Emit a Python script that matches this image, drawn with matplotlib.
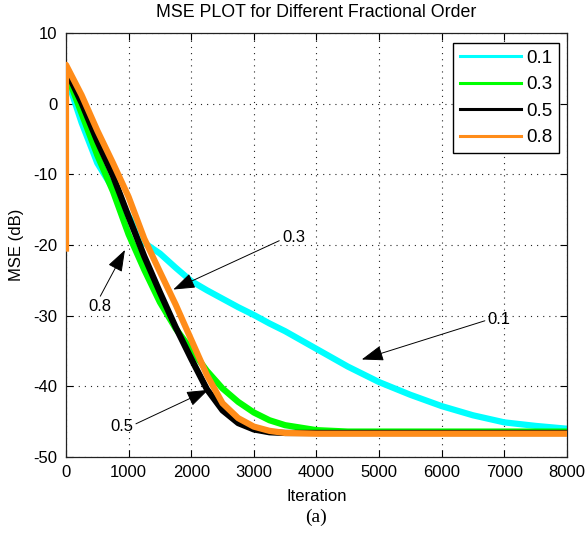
import matplotlib
matplotlib.use("Agg")
from matplotlib import pyplot as plt
from matplotlib.lines import Line2D

# MSE curves (dB), one value per iteration mark
iterations = [0, 250, 500, 750, 1000, 1250, 1500, 1750, 2000, 2250, 2500, 2750,
              3000, 3250, 3500, 4000, 4500, 5000, 5500, 6000, 6500, 7000, 7500, 8000]
mse_01 = [4.0, -2.7, -8.4, -12.0, -15.9, -19.7, -21.2, -23.2, -25.1, -26.4, -27.6, -28.8,
          -29.9, -31.1, -32.2, -34.7, -37.2, -39.4, -41.2, -42.8, -44.1, -45.1, -45.6, -46.0]
mse_03 = [4.5, -1.4, -7.3, -12.4, -18.5, -23.5, -28.1, -31.8, -34.8, -37.8, -40.3, -42.2,
          -43.7, -44.8, -45.5, -46.2, -46.4, -46.4, -46.4, -46.4, -46.4, -46.4, -46.4, -46.4]
mse_05 = [4.8, 0.1, -5.3, -10.2, -16.0, -21.6, -26.7, -31.6, -36.1, -40.4, -43.4, -45.2,
          -46.1, -46.5, -46.6, -46.6, -46.6, -46.6, -46.6, -46.6, -46.6, -46.6, -46.6, -46.6]
mse_08 = [5.5, 1.2, -3.8, -8.4, -13.2, -19.1, -23.8, -28.4, -33.4, -38.4, -42.4, -44.5,
          -45.7, -46.3, -46.6, -46.7, -46.7, -46.7, -46.7, -46.7, -46.7, -46.7, -46.7, -46.7]
mse_08_first = -20.5  # very first sample of the 0.8 run (vertical jump at 0)

orders = ["0.1", "0.3", "0.5", "0.8"]
colors = ["#00ffff", "#00ff00", "#000000", "#ff8c19"]

plt.rcParams["font.family"] = ["Liberation Sans", "DejaVu Sans"]
plt.rcParams["font.size"] = 12
plt.rcParams["axes.unicode_minus"] = False

fig = plt.figure(figsize=(5.88, 5.36), dpi=100)
ax = fig.add_axes([0.1122, 0.1474, 0.8520, 0.7910])

series = [mse_01, mse_03, mse_05, mse_08]
for i, vals in enumerate(series):
    x = list(iterations)
    y = list(vals)
    if orders[i] == "0.8":
        x = [0] + x
        y = [mse_08_first] + y
    ax.plot(x, y, color=colors[i], lw=4.5, solid_joinstyle="round", zorder=2 + i)

ax.set_xlim(0, 8000)
ax.set_ylim(-50, 10)
ax.set_xticks(range(0, 8001, 1000))
ax.set_yticks(range(-50, 11, 10))
ax.tick_params(direction="in", top=True, right=True, length=5, width=0.8,
               labelsize=12, pad=6)
for s in ax.spines.values():
    s.set_linewidth(0.9)
    s.set_color("#222222")
ax.grid(True, color="#222222", lw=0.8, linestyle=(0, (1, 4.5)))
ax.set_axisbelow(True)

ax.set_xlabel("Iteration", fontsize=12)
ax.xaxis.set_label_coords(0.5, -0.075)
ax.xaxis.label.set_va("top")
ax.set_ylabel("MSE (dB)", fontsize=12)
ax.yaxis.set_label_coords(-0.084, 0.5)

fig.text(0.538, 0.976, "MSE PLOT for Different Fractional Order",
         ha="center", va="center", fontsize=12.8)
fig.text(0.537, 0.035, "(a)", ha="center", va="center",
         fontsize=14, family=["Liberation Serif", "DejaVu Serif"])

# legend with thinner handle lines
handles = [Line2D([], [], color=c, lw=2.2) for c in colors]
leg = ax.legend(handles, orders, loc="upper right", bbox_to_anchor=(0.984, 0.976),
                borderaxespad=0, fancybox=False, framealpha=1, edgecolor="black",
                handlelength=3.3, handletextpad=0.25, labelspacing=0.5,
                borderpad=0.35, fontsize=13.5)
leg.get_frame().set_linewidth(1.0)
leg.set_zorder(20)

arrow = dict(arrowstyle="-|>,head_length=0.9,head_width=0.32", color="black",
             lw=0.7, mutation_scale=15, shrinkA=0, shrinkB=0)
ax.annotate("0.3", xy=(1714, -26.3), xytext=(3450, -19.0), ha="left", va="center",
            fontsize=12, arrowprops=dict(arrow, relpos=(0, 0.4)), zorder=15)
ax.annotate("0.8", xy=(942, -20.7), xytext=(543, -28.7), ha="center", va="center",
            fontsize=12, arrowprops=dict(arrow, relpos=(0.45, 1.0)), zorder=15)
ax.annotate("0.5", xy=(2273, -40.5), xytext=(889, -45.7), ha="center", va="center",
            fontsize=12, arrowprops=dict(arrow, relpos=(1.0, 0.6)), zorder=15)
ax.annotate("0.1", xy=(4723, -36.2), xytext=(6917, -30.6), ha="center", va="center",
            fontsize=12, arrowprops=dict(arrow, relpos=(0, 0.5)), zorder=15)

fig.savefig("out.png", dpi=100, facecolor="white")
